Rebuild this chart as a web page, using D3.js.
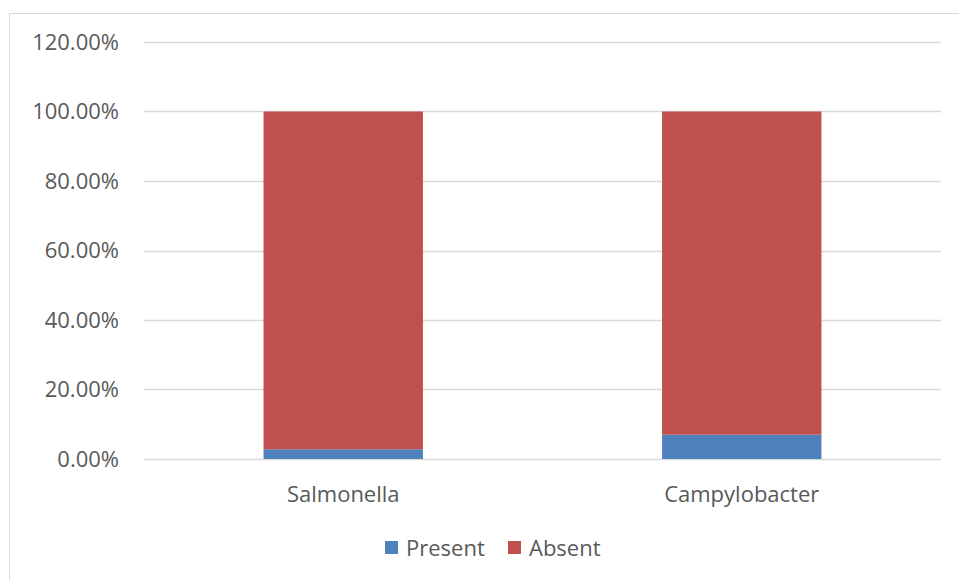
<!DOCTYPE html>
<html>
<head>
<meta charset="utf-8">
<script src="https://cdn.jsdelivr.net/npm/d3@7"></script>
<style>
  body { margin: 0; background: #fff; }
  svg { display: block; font-family: "Open Sans", "Noto Sans", sans-serif; }
</style>
</head>
<body>
<svg width="959" height="580"></svg>
<script>
const svg = d3.select("svg"),
  width = +svg.attr("width"),
  height = +svg.attr("height");

// Data
const categories = ["Salmonella", "Campylobacter"];
const seriesNames = ["Present", "Absent"];
const present = [0.028, 0.07];
const absent = [0.972, 0.93];
const yTicks = [0, 0.2, 0.4, 0.6, 0.8, 1.0, 1.2];
const colors = ["#4F81BD", "#C0504D"];

const margin = { left: 144, right: 18, top: 42, bottom: 121 };
const fontSize = 22;

// Chart border
svg.append("rect")
  .attr("x", 9.5).attr("y", 13.5)
  .attr("width", width - 9).attr("height", height)
  .attr("fill", "none").attr("stroke", "#d9d9d9");

const x = d3.scaleBand()
  .domain(categories)
  .range([margin.left, width - margin.right])
  .paddingInner(0.6)
  .paddingOuter(0.3);

const y = d3.scaleLinear()
  .domain([0, 1.2])
  .range([height - margin.bottom, margin.top]);

// Gridlines
svg.append("g")
  .selectAll("line")
  .data(yTicks)
  .join("line")
  .attr("x1", margin.left).attr("x2", width - margin.right)
  .attr("y1", d => Math.round(y(d)) + 0.5).attr("y2", d => Math.round(y(d)) + 0.5)
  .attr("stroke", "#d9d9d9").attr("stroke-width", 1.5);

// Y tick labels
svg.append("g")
  .selectAll("text")
  .data(yTicks)
  .join("text")
  .attr("x", 119)
  .attr("y", d => y(d))
  .attr("dy", "0.35em")
  .attr("text-anchor", "end")
  .attr("fill", "#595959")
  .attr("font-size", fontSize)
  .text(d => d3.format(".2%")(d));

// Stacked bars
const rows = categories.map((c, i) => ({ cat: c, Present: present[i], Absent: absent[i] }));
const stacked = d3.stack().keys(seriesNames)(rows);

svg.append("g")
  .selectAll("g")
  .data(stacked)
  .join("g")
  .attr("fill", (d, i) => colors[i])
  .selectAll("rect")
  .data(d => d)
  .join("rect")
  .attr("x", d => x(d.data.cat))
  .attr("width", x.bandwidth())
  .attr("y", d => y(d[1]))
  .attr("height", d => y(d[0]) - y(d[1]));

// Category labels
svg.append("g")
  .selectAll("text")
  .data(categories)
  .join("text")
  .attr("x", d => x(d) + x.bandwidth() / 2)
  .attr("y", 494)
  .attr("dy", "0.35em")
  .attr("text-anchor", "middle")
  .attr("fill", "#595959")
  .attr("font-size", fontSize)
  .text(d => d);

// Legend
const legendX = [385, 508];
const legend = svg.append("g")
  .selectAll("g")
  .data(seriesNames)
  .join("g")
  .attr("transform", (d, i) => `translate(${legendX[i]},541)`);

legend.append("rect")
  .attr("width", 13).attr("height", 13)
  .attr("fill", (d, i) => colors[i]);

legend.append("text")
  .attr("x", 21).attr("y", 7)
  .attr("dy", "0.35em")
  .attr("fill", "#595959")
  .attr("font-size", fontSize)
  .text(d => d);
</script>
</body>
</html>
